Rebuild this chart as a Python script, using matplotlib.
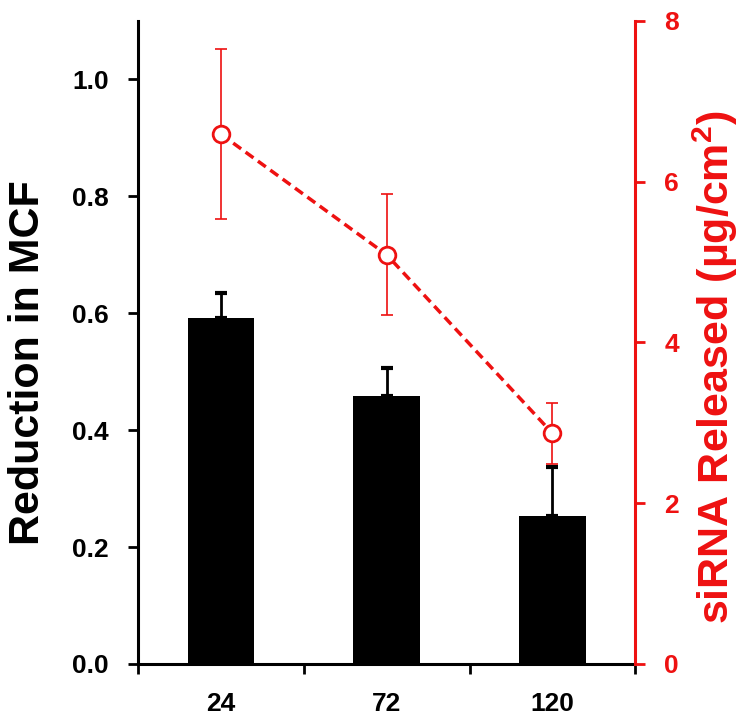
import numpy as np
import matplotlib
matplotlib.use('Agg')
import matplotlib.pyplot as plt

plt.rcParams['font.family'] = ['Liberation Sans', 'DejaVu Sans']
plt.rcParams['font.weight'] = 'bold'
plt.rcParams['mathtext.default'] = 'regular'

# data
times = ['24', '72', '120']
mcf_reduction = [0.591, 0.459, 0.253]
mcf_err = [0.043, 0.048, 0.084]
sirna_released = [6.59, 5.09, 2.87]
sirna_err = [1.06, 0.75, 0.38]

red = '#ee1111'

fig = plt.figure(figsize=(7.5, 7.17), dpi=100)
ax = fig.add_axes([0.184, 0.074, 0.663, 0.897])
x = np.arange(len(times))

# bars with upper error only
ax.bar(x, mcf_reduction, width=0.4, color='black', zorder=2)
ax.errorbar(x, mcf_reduction, yerr=[np.zeros(len(x)), mcf_err], fmt='none',
            ecolor='black', elinewidth=2, capsize=4.5, capthick=3, zorder=2)

ax.set_xlim(-0.5, 2.5)
ax.set_ylim(0, 1.1)
ax.set_yticks([0.0, 0.2, 0.4, 0.6, 0.8, 1.0])
ax.set_yticklabels(['%.1f' % v for v in [0.0, 0.2, 0.4, 0.6, 0.8, 1.0]])
ax.set_xticks(x)
ax.set_xticklabels(times)
ax.set_xticks([-0.5, 0.5, 1.5, 2.5], minor=True)
ax.tick_params(axis='x', which='major', length=0, labelsize=19, pad=20)
ax.tick_params(axis='x', which='minor', length=7, width=2, direction='out')
ax.tick_params(axis='y', length=7, width=2, direction='out', labelsize=19, pad=14)
ax.set_ylabel('Reduction in MCF', fontsize=31, fontweight='bold')
ax.yaxis.set_label_coords(-0.181, 0.468)

for side in ['top', 'right']:
    ax.spines[side].set_visible(False)
ax.spines['left'].set_linewidth(2.2)
ax.spines['bottom'].set_linewidth(2.2)

# second axis for siRNA release
ax2 = ax.twinx()
ax2.errorbar(x, sirna_released, yerr=sirna_err, fmt='none', ecolor=red,
             elinewidth=1.2, capsize=4.5, capthick=1.2, zorder=3)
line, = ax2.plot(x, sirna_released, color=red, linewidth=2.5, marker='o',
                 markersize=12, markerfacecolor='white', markeredgecolor=red,
                 markeredgewidth=2, zorder=4)
line.set_dashes((2.8, 1.6))
ax2.set_ylim(0, 8)
ax2.set_yticks([0, 2, 4, 6, 8])
ax2.tick_params(axis='y', colors=red, length=7, width=2, direction='out',
                labelsize=19, pad=14)
ax2.set_ylabel('siRNA Released (µg/cm$^{2}$)', fontsize=31,
               fontweight='bold', color=red)
ax2.yaxis.set_label_coords(1.112, 0.462)
for side in ['top', 'left', 'bottom']:
    ax2.spines[side].set_visible(False)
ax2.spines['right'].set_color(red)
ax2.spines['right'].set_linewidth(2.2)

fig.savefig('out.png', dpi=100)
